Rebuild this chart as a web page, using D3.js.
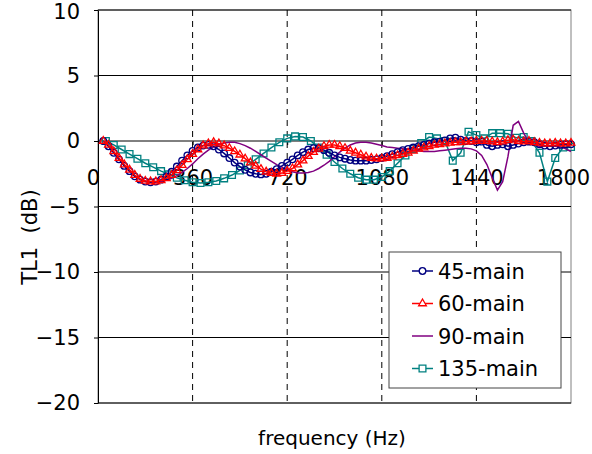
<!DOCTYPE html>
<html>
<head>
<meta charset="utf-8">
<script src="https://cdn.jsdelivr.net/npm/d3@7"></script>
<style>
body { margin: 0; background: #fff; }
svg { display: block; font-family: "DejaVu Sans", sans-serif; }
</style>
</head>
<body>
<div id="chart"></div>
<script>
// frequencies (Hz) for the 45 / 60 / 90 series
const freqA = [20,40,60,80,100,120,140,160,180,200,220,240,260,280,300,320,340,360,380,400,
  420,440,460,480,500,520,540,560,580,600,620,640,660,680,700,720,740,760,780,800,
  820,840,860,880,900,920,940,960,980,1000,1020,1040,1060,1080,1100,1120,1140,1160,1180,1200,
  1220,1240,1260,1280,1300,1320,1340,1360,1380,1400,1420,1440,1460,1480,1500,1520,1540,1560,1580,1600,
  1620,1640,1660,1680,1700,1720,1740,1760,1780,1800];

const main45 = [0,-0.4,-0.9,-1.4,-1.9,-2.3,-2.7,-2.95,-3.1,-3.15,-3.1,-2.95,-2.7,-2.35,-1.95,-1.5,-1.1,-0.75,-0.5,-0.35,
  -0.3,-0.4,-0.65,-0.95,-1.3,-1.65,-1.95,-2.2,-2.4,-2.5,-2.55,-2.5,-2.35,-2.15,-1.9,-1.65,-1.4,-1.1,-0.85,-0.65,
  -0.55,-0.55,-0.7,-0.9,-1.1,-1.25,-1.35,-1.45,-1.5,-1.5,-1.5,-1.45,-1.4,-1.3,-1.15,-1.0,-0.85,-0.7,-0.6,-0.5,
  -0.4,-0.3,-0.2,-0.1,-0.05,0.05,0.2,0.25,0.1,0.0,0.0,-0.1,-0.05,-0.3,-0.4,-0.3,-0.25,-0.4,-0.3,-0.2,
  -0.1,-0.05,-0.1,-0.25,-0.35,-0.4,-0.35,-0.3,-0.25,-0.25];

const main60 = [0,-0.3,-0.8,-1.3,-1.8,-2.2,-2.6,-2.9,-3.05,-3.1,-3.1,-3.0,-2.85,-2.6,-2.25,-1.85,-1.4,-1.0,-0.65,-0.35,
  -0.2,-0.1,-0.2,-0.35,-0.55,-0.8,-1.05,-1.35,-1.65,-1.9,-2.15,-2.35,-2.45,-2.5,-2.45,-2.3,-2.1,-1.8,-1.5,-1.15,
  -0.85,-0.6,-0.4,-0.3,-0.3,-0.4,-0.55,-0.75,-0.9,-1.05,-1.2,-1.3,-1.35,-1.35,-1.3,-1.2,-1.1,-1.0,-0.9,-0.75,
  -0.6,-0.5,-0.4,-0.3,-0.25,-0.2,-0.15,-0.1,-0.1,-0.05,-0.05,0,0,0,-0.05,-0.1,-0.05,0.05,0.1,0,
  -0.05,0,-0.1,-0.15,-0.2,-0.2,-0.15,-0.2,-0.2,-0.15];

const main90 = [0,-0.4,-0.9,-1.4,-1.85,-2.3,-2.65,-2.9,-3.05,-3.1,-3.15,-3.1,-3.0,-2.85,-2.65,-2.4,-2.1,-1.75,-1.35,-1.0,
  -0.7,-0.45,-0.25,-0.15,-0.1,-0.1,-0.2,-0.35,-0.55,-0.8,-1.05,-1.3,-1.55,-1.8,-2.0,-2.2,-2.35,-2.45,-2.45,-2.4,
  -2.3,-2.1,-1.85,-1.55,-1.2,-0.85,-0.55,-0.3,-0.15,-0.1,-0.1,-0.15,-0.25,-0.35,-0.45,-0.5,-0.55,-0.6,-0.65,-0.7,
  -0.75,-0.8,-0.8,-0.8,-0.75,-0.7,-0.65,-0.6,-0.55,-0.55,-0.6,-0.75,-1.1,-1.8,-2.8,-3.75,-3.1,-1.2,1.2,1.5,
  0.6,-0.1,-0.3,-0.4,-0.4,-0.35,-0.4,-0.45,-0.6,-0.8];

// frequencies (Hz) for the 135 series
const freqB = [30,60,90,120,150,180,210,240,270,300,330,360,390,420,450,480,510,540,570,600,
  630,660,690,720,750,780,810,840,870,900,930,960,990,1020,1050,1080,1110,1140,1170,1200,
  1230,1260,1290,1320,1350,1380,1410,1440,1470,1500,1530,1560,1590,1620,1650,1680,1710,1740,1770,1800];

const main135 = [0,-0.3,-0.65,-1.0,-1.35,-1.7,-2.0,-2.3,-2.55,-2.8,-3.0,-3.15,-3.2,-3.15,-3.05,-2.85,-2.6,-2.25,-1.85,-1.4,
  -0.95,-0.5,-0.1,0.2,0.35,0.3,0,-0.5,-1.05,-1.6,-2.1,-2.5,-2.8,-2.95,-2.95,-2.75,-2.3,-1.7,-1.1,-0.6,
  -0.15,0.3,0.2,0,-1.5,-0.9,0.7,0.45,0.2,0.6,0.6,0.55,0.25,0.3,0,-0.9,-3.1,-1.3,-0.5,-0.45];

const xTicks = [0,360,720,1080,1440,1800];
const yTicks = [10,5,0,-5,-10,-15,-20];
const seriesNames = ["45-main","60-main","90-main","135-main"];

const width = 592, height = 454;
const plotLeft = 98, plotRight = 571, plotTop = 10, plotBottom = 403;

const svg = d3.select("#chart")
  .append("svg")
  .attr("width", width)
  .attr("height", height);

const x = d3.scaleLinear().domain([0, 1800]).range([plotLeft, plotRight]);
const y = d3.scaleLinear().domain([-20, 10]).range([plotBottom, plotTop]);

// plot area border
svg.append("rect")
  .attr("x", plotLeft).attr("y", plotTop)
  .attr("width", plotRight - plotLeft).attr("height", plotBottom - plotTop)
  .attr("fill", "none").attr("stroke", "#808080");

// horizontal gridlines
svg.append("g").selectAll("line").data(yTicks).enter().append("line")
  .attr("x1", plotLeft).attr("x2", plotRight)
  .attr("y1", d => y(d)).attr("y2", d => y(d))
  .attr("stroke", "#000").attr("stroke-width", 1);

// vertical dashed gridlines
svg.append("g").selectAll("line").data(xTicks.slice(1, -1)).enter().append("line")
  .attr("x1", d => x(d)).attr("x2", d => x(d))
  .attr("y1", plotTop).attr("y2", plotBottom)
  .attr("stroke", "#000").attr("stroke-dasharray", "6,5");

// x axis crossing at 0 dB
const xAxisGroup = svg.append("g").attr("transform", `translate(0, ${y(0)})`);
xAxisGroup.call(d3.axisBottom(x).tickValues(xTicks).tickFormat(d3.format("d"))
  .tickSizeInner(4).tickSizeOuter(0).tickPadding(25));
xAxisGroup.select(".domain").remove();
xAxisGroup.selectAll("text").attr("font-size", 21).attr("font-family", "DejaVu Sans").attr("fill", "#000");
xAxisGroup.selectAll(".tick").filter(d => d === 0).select("text").attr("dx", -5);
xAxisGroup.selectAll(".tick").filter(d => d === 1800).select("text").attr("dx", -8);

// y axis
const yAxisGroup = svg.append("g").attr("transform", `translate(${plotLeft}, 0)`);
yAxisGroup.call(d3.axisLeft(y).tickValues(yTicks).tickSizeInner(4).tickSizeOuter(0).tickPadding(14));
yAxisGroup.select(".domain").attr("stroke", "#000");
yAxisGroup.selectAll("text").attr("font-size", 21).attr("font-family", "DejaVu Sans").attr("fill", "#000");
yAxisGroup.selectAll(".tick").filter(d => d === 10).select("text").attr("dy", "0.42em");

// series
const series = [
  { name: seriesNames[0], fx: freqA, vals: main45, color: "#000080", symbol: d3.symbolCircle, size: 34 },
  { name: seriesNames[1], fx: freqA, vals: main60, color: "#ff0000", symbol: d3.symbolTriangle, size: 26 },
  { name: seriesNames[2], fx: freqA, vals: main90, color: "#800080", symbol: null, size: 0 },
  { name: seriesNames[3], fx: freqB, vals: main135, color: "#008080", symbol: d3.symbolSquare, size: 46 }
];

const line = d3.line().x(d => x(d[0])).y(d => y(d[1]));

// draw order: 135 underneath, then 90, 45, 60
[3, 2, 0, 1].forEach(i => {
  const s = series[i];
  const pts = s.fx.map((f, k) => [f, s.vals[k]]);
  const g = svg.append("g");
  g.append("path").datum(pts)
    .attr("d", line)
    .attr("fill", "none")
    .attr("stroke", s.color)
    .attr("stroke-width", 1.5);
  if (s.symbol) {
    g.selectAll("path.m").data(pts).enter().append("path")
      .attr("class", "m")
      .attr("d", d3.symbol().type(s.symbol).size(s.size))
      .attr("transform", d => `translate(${x(d[0])}, ${y(d[1])})`)
      .attr("fill", "none")
      .attr("stroke", s.color)
      .attr("stroke-width", 1.3);
  }
});

// axis titles
svg.append("text")
  .attr("x", 332).attr("y", 445)
  .attr("text-anchor", "middle")
  .attr("font-size", 20)
  .text("frequency (Hz)");

svg.append("text")
  .attr("transform", "translate(37, 237) rotate(-90)")
  .attr("text-anchor", "middle")
  .attr("font-size", 21)
  .style("white-space", "pre")
  .text("TL1  (dB)");

// legend
const legend = svg.append("g");
legend.append("rect")
  .attr("x", 389).attr("y", 252)
  .attr("width", 172).attr("height", 136)
  .attr("fill", "#fff").attr("stroke", "#444");

series.forEach((s, i) => {
  const cy = 271 + i * 32.5;
  const row = legend.append("g");
  row.append("line")
    .attr("x1", 412).attr("x2", 433)
    .attr("y1", cy).attr("y2", cy)
    .attr("stroke", s.color).attr("stroke-width", 1.5);
  if (s.symbol) {
    row.append("path")
      .attr("d", d3.symbol().type(s.symbol).size(s.size))
      .attr("transform", `translate(422.5, ${cy})`)
      .attr("fill", "#fff")
      .attr("stroke", s.color)
      .attr("stroke-width", 1.3);
  }
  row.append("text")
    .attr("x", 438).attr("y", cy)
    .attr("dy", "0.36em")
    .attr("font-size", 21)
    .text(s.name);
});
</script>
</body>
</html>
